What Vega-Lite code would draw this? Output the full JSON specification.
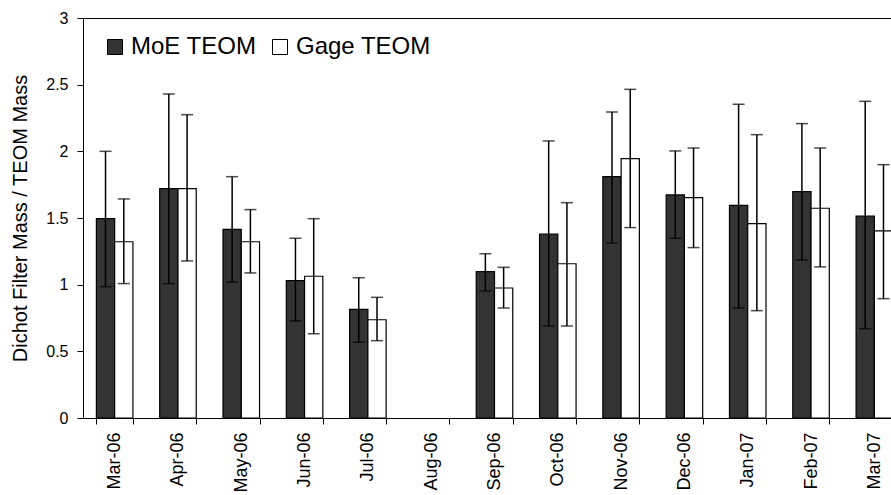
{
  "$schema": "https://vega.github.io/schema/vega-lite/v6.json",
  "width": 823,
  "height": 400,
  "autosize": {"type": "none"},
  "padding": {"left": 83, "top": 18, "right": -15, "bottom": 77},
  "background": "white",
  "config": {
    "font": "Liberation Sans",
    "view": {"stroke": "black", "strokeWidth": 1},
    "axis": {"grid": false, "domainColor": "black", "tickColor": "black", "labelColor": "black", "titleColor": "black", "labelFont": "Liberation Sans", "titleFont": "Liberation Sans", "domainWidth": 1, "tickWidth": 1}
  },
  "data": {"values": [
    {"month": "Mar-06", "series": "MoE TEOM", "value": 1.495, "lo": 0.985, "hi": 2.0},
    {"month": "Mar-06", "series": "Gage TEOM", "value": 1.322, "lo": 1.008, "hi": 1.643},
    {"month": "Apr-06", "series": "MoE TEOM", "value": 1.72, "lo": 1.008, "hi": 2.43},
    {"month": "Apr-06", "series": "Gage TEOM", "value": 1.72, "lo": 1.178, "hi": 2.275},
    {"month": "May-06", "series": "MoE TEOM", "value": 1.415, "lo": 1.02, "hi": 1.81},
    {"month": "May-06", "series": "Gage TEOM", "value": 1.322, "lo": 1.088, "hi": 1.563},
    {"month": "Jun-06", "series": "MoE TEOM", "value": 1.03, "lo": 0.728, "hi": 1.348},
    {"month": "Jun-06", "series": "Gage TEOM", "value": 1.063, "lo": 0.632, "hi": 1.495},
    {"month": "Jul-06", "series": "MoE TEOM", "value": 0.815, "lo": 0.568, "hi": 1.052},
    {"month": "Jul-06", "series": "Gage TEOM", "value": 0.737, "lo": 0.58, "hi": 0.905},
    {"month": "Sep-06", "series": "MoE TEOM", "value": 1.098, "lo": 0.953, "hi": 1.232},
    {"month": "Sep-06", "series": "Gage TEOM", "value": 0.975, "lo": 0.825, "hi": 1.13},
    {"month": "Oct-06", "series": "MoE TEOM", "value": 1.38, "lo": 0.69, "hi": 2.078},
    {"month": "Oct-06", "series": "Gage TEOM", "value": 1.157, "lo": 0.69, "hi": 1.615},
    {"month": "Nov-06", "series": "MoE TEOM", "value": 1.81, "lo": 1.313, "hi": 2.295},
    {"month": "Nov-06", "series": "Gage TEOM", "value": 1.945, "lo": 1.428, "hi": 2.465},
    {"month": "Dec-06", "series": "MoE TEOM", "value": 1.673, "lo": 1.348, "hi": 2.003},
    {"month": "Dec-06", "series": "Gage TEOM", "value": 1.653, "lo": 1.278, "hi": 2.025},
    {"month": "Jan-07", "series": "MoE TEOM", "value": 1.595, "lo": 0.825, "hi": 2.353},
    {"month": "Jan-07", "series": "Gage TEOM", "value": 1.458, "lo": 0.805, "hi": 2.125},
    {"month": "Feb-07", "series": "MoE TEOM", "value": 1.698, "lo": 1.185, "hi": 2.208},
    {"month": "Feb-07", "series": "Gage TEOM", "value": 1.573, "lo": 1.133, "hi": 2.025},
    {"month": "Mar-07", "series": "MoE TEOM", "value": 1.515, "lo": 0.67, "hi": 2.375},
    {"month": "Mar-07", "series": "Gage TEOM", "value": 1.403, "lo": 0.895, "hi": 1.9}
  ]},
  "encoding": {
    "x": {
      "field": "month", "type": "nominal",
      "scale": {"domain": ["Mar-06","Apr-06","May-06","Jun-06","Jul-06","Aug-06","Sep-06","Oct-06","Nov-06","Dec-06","Jan-07","Feb-07","Mar-07"], "paddingInner": 0.423, "paddingOuter": 0.2115},
      "axis": {"title": null, "labelAngle": -90, "labelAlign": "right", "labelBaseline": "middle", "labelFontSize": 18, "tickBand": "extent", "tickSize": 6, "labelPadding": 8}
    },
    "xOffset": {"field": "series", "type": "nominal", "sort": ["MoE TEOM", "Gage TEOM"], "scale": {"domain": ["MoE TEOM", "Gage TEOM"], "paddingInner": 0, "paddingOuter": 0}}
  },
  "layer": [
    {
      "mark": {"type": "bar", "stroke": "black", "strokeWidth": 1.2},
      "encoding": {
        "y": {"field": "value", "type": "quantitative", "scale": {"domain": [0, 3]},
          "axis": {"title": "Dichot Filter Mass / TEOM Mass", "values": [0, 0.5, 1, 1.5, 2, 2.5, 3], "format": "~g", "labelFontSize": 16, "tickSize": 6, "labelPadding": 9, "titleFontSize": 20, "titleFontWeight": "normal", "titlePadding": 15}},
        "fill": {"field": "series", "type": "nominal", "sort": ["MoE TEOM", "Gage TEOM"],
          "scale": {"domain": ["MoE TEOM", "Gage TEOM"], "range": ["#333333", "#ffffff"]},
          "legend": {"orient": "none", "legendX": 20, "legendY": 17, "direction": "horizontal", "title": null, "symbolType": "square", "symbolSize": 225, "symbolStrokeColor": "black", "symbolStrokeWidth": 1, "labelFontSize": 24, "labelColor": "black", "labelFont": "Liberation Sans", "columnPadding": 11, "labelOffset": 4, "padding": 0}}
      }
    },
    {
      "mark": {"type": "rule", "color": "black", "strokeWidth": 1.5},
      "encoding": {
        "y": {"field": "lo", "type": "quantitative", "scale": {"domain": [0, 3]}, "axis": {"title": "Dichot Filter Mass / TEOM Mass"}},
        "y2": {"field": "hi"}
      }
    },
    {
      "mark": {"type": "tick", "color": "black", "thickness": 1.5, "size": 12},
      "encoding": {"y": {"field": "lo", "type": "quantitative", "scale": {"domain": [0, 3]}, "axis": {"title": "Dichot Filter Mass / TEOM Mass"}}}
    },
    {
      "mark": {"type": "tick", "color": "black", "thickness": 1.5, "size": 12},
      "encoding": {"y": {"field": "hi", "type": "quantitative", "scale": {"domain": [0, 3]}, "axis": {"title": "Dichot Filter Mass / TEOM Mass"}}}
    }
  ]
}
